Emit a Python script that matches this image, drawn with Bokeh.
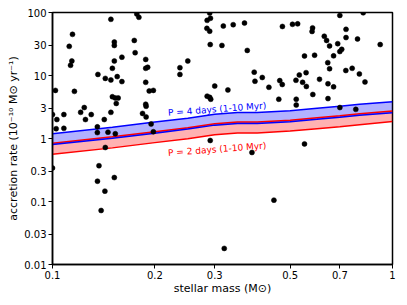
from bokeh.plotting import figure
from bokeh.models import FixedTicker, CustomJSTickFormatter, ColumnDataSource
from bokeh.embed import file_html
from bokeh.resources import INLINE
from bokeh.core.properties import value

# ---- data ----
stellar_mass = [
    0.100, 0.103, 0.108, 0.102, 0.116, 0.1145, 0.112, 0.114, 0.113, 0.1025,
    0.108, 0.121, 0.124, 0.125, 0.130, 0.136, 0.143, 0.1485, 0.155, 0.160,
    0.1485, 0.152, 0.152, 0.152, 0.150, 0.160, 0.174, 0.175, 0.177, 0.1795,
    0.188, 0.188, 0.1905, 0.188, 0.1925, 0.198, 0.150, 0.153, 0.156, 0.154,
    0.1485, 0.142, 0.1355, 0.1355, 0.1456, 0.153, 0.143, 0.137, 0.1356, 0.152,
    0.1426, 0.139, 0.100, 0.184, 0.188, 0.1885, 0.1885, 0.195, 0.198,
    0.290, 0.2915, 0.285, 0.2845, 0.290, 0.318, 0.340, 0.367, 0.291, 0.315,
    0.374, 0.250, 0.237, 0.237, 0.392, 0.414, 0.394, 0.300, 0.328, 0.285,
    0.290, 0.292, 0.291, 0.386, 0.320, 0.433, 0.466, 0.474, 0.4745, 0.463,
    0.448, 0.508, 0.526, 0.582, 0.580, 0.730, 0.630, 0.640, 0.730, 0.789,
    0.920, 0.690, 0.653, 0.709, 0.700, 0.551, 0.590, 0.671, 0.645, 0.653,
    0.729, 0.761, 0.799, 0.830, 0.557, 0.532, 0.610, 0.520, 0.544, 0.558,
    0.646, 0.671, 0.583, 0.646, 0.521, 0.521, 0.700, 0.780, 0.551, 0.700,
    0.820,
]
accretion_rate = [
    2.4, 2.0, 2.4, 5.8, 5.6, 45, 29, 17, 14.5, 1.43,
    1.45, 2.6, 3.1, 2.0, 2.4, 10.4, 9.0, 8.5, 9.6, 8.0,
    78, 34, 30, 17, 13, 19.5, 36, 23, 95, 84,
    18, 13, 13.5, 7.8, 5.7, 5.8, 4.6, 4.4, 4.4, 3.6,
    2.6, 2.0, 1.53, 1.24, 1.26, 1.19, 0.72, 0.37, 0.21, 0.24,
    0.146, 0.072, 0.34, 2.5, 3.5, 3.25, 2.2, 1.7, 1.28,
    98, 81, 75, 56, 50.5, 61, 64, 68, 31, 30,
    25, 17, 13.3, 10.4, 11.3, 9.3, 8.1, 6.8, 5.9, 4.7,
    4.5, 4.2, 0.93, 0.6, 0.018, 6.5, 8.3, 7.2, 60, 4.2,
    0.105, 65, 66, 57, 50, 54, 42, 36, 40, 38,
    31, 32, 29.5, 26, 24, 20.4, 21, 20.5, 16, 12.8,
    12, 13, 10.6, 7.9, 11.1, 10.2, 8.7, 8.4, 7.8, 6.7,
    7.4, 6.6, 5.0, 4.3, 4.2, 3.4, 3.1, 2.9, 0.82, 90,
    99,
]

band_mass = [0.1, 0.15, 0.2, 0.25, 0.3, 0.35, 0.4, 0.5, 0.6, 0.7, 0.8, 1.0]
p4_upper = [1.19, 1.51, 1.82, 2.10, 2.43, 2.59, 2.59, 2.76, 3.03, 3.26, 3.50, 3.84]
p4_lower = [0.80, 1.01, 1.21, 1.41, 1.63, 1.73, 1.73, 1.85, 2.02, 2.18, 2.34, 2.57]
p2_upper = [0.84, 1.07, 1.28, 1.48, 1.72, 1.83, 1.83, 1.95, 2.14, 2.30, 2.48, 2.72]
p2_lower = [0.56, 0.71, 0.86, 0.99, 1.15, 1.22, 1.22, 1.31, 1.43, 1.54, 1.66, 1.86]

x_ticks = [0.1, 0.2, 0.3, 0.5, 0.7, 1.0]
y_ticks = [0.01, 0.03, 0.1, 0.3, 1, 3, 10, 30, 100]

label_p4 = "P = 4 days (1-10 Myr)"
label_p2 = "P = 2 days (1-10 Myr)"

FONT = "DejaVu Sans"

p = figure(
    frame_width=340, frame_height=252,
    x_axis_type="log", y_axis_type="log",
    x_range=(0.1, 1.0), y_range=(0.01, 100),
    output_backend="svg", toolbar_location=None,
    min_border_left=52, min_border_right=6, min_border_top=12, min_border_bottom=30,
    background_fill_color="white", border_fill_color="white",
)

# bands
p.varea(x=band_mass, y1=p2_lower, y2=p2_upper, fill_color="#ff0000", fill_alpha=0.3)
p.varea(x=band_mass, y1=p4_lower, y2=p4_upper, fill_color="#0000ff", fill_alpha=0.3)
p.line(band_mass, p2_upper, line_color="#ff0000", line_width=1.5)
p.line(band_mass, p2_lower, line_color="#ff0000", line_width=1.5)
p.line(band_mass, p4_upper, line_color="#0000ff", line_width=1.5)
p.line(band_mass, p4_lower, line_color="#0000ff", line_width=1.5)

# points
src = ColumnDataSource(dict(m=stellar_mass, r=accretion_rate))
p.scatter("m", "r", source=src, size=5, fill_color="black", line_color="black",
          line_width=0.5)

# labels
p.text(x=[0.305], y=[2.92], text=[label_p4], angle=0.075,
       text_color="#0000ff", text_font=value(FONT), text_font_size="9px",
       text_align="center", text_baseline="middle")
p.text(x=[0.305], y=[0.675], text=[label_p2], angle=0.075,
       text_color="#ff0000", text_font=value(FONT), text_font_size="9px",
       text_align="center", text_baseline="middle")

fmt = CustomJSTickFormatter(code="return String(Number(tick.toPrecision(3)));")

for ax, ticks in ((p.xaxis[0], x_ticks), (p.yaxis[0], y_ticks)):
    ax.ticker = FixedTicker(ticks=ticks, minor_ticks=[])
    ax.formatter = fmt
    ax.major_label_text_font = FONT
    ax.major_label_text_font_size = "10px"
    ax.major_label_text_color = "black"
    ax.axis_label_text_font = FONT
    ax.axis_label_text_font_size = "11px"
    ax.axis_label_text_font_style = "normal"
    ax.axis_label_text_color = "black"
    ax.major_tick_in = 0
    ax.major_tick_out = 4
    ax.minor_tick_line_color = None
    ax.axis_line_color = "black"
    ax.axis_line_width = 1.5
    ax.major_tick_line_width = 1
    ax.major_label_standoff = 2

p.xaxis.axis_label_standoff = 0
p.yaxis.axis_label_standoff = 1
p.xaxis.axis_label = "stellar mass (M\u2299)"
p.yaxis.axis_label = "accretion rate (10\u207b\u00b9\u2070 M\u2299 yr\u207b\u00b9)"

p.xgrid.visible = False
p.ygrid.visible = False
p.outline_line_color = "black"
p.outline_line_width = 1.5
p.outline_line_alpha = 1.0

open("out.html", "w").write(file_html(p, INLINE))
